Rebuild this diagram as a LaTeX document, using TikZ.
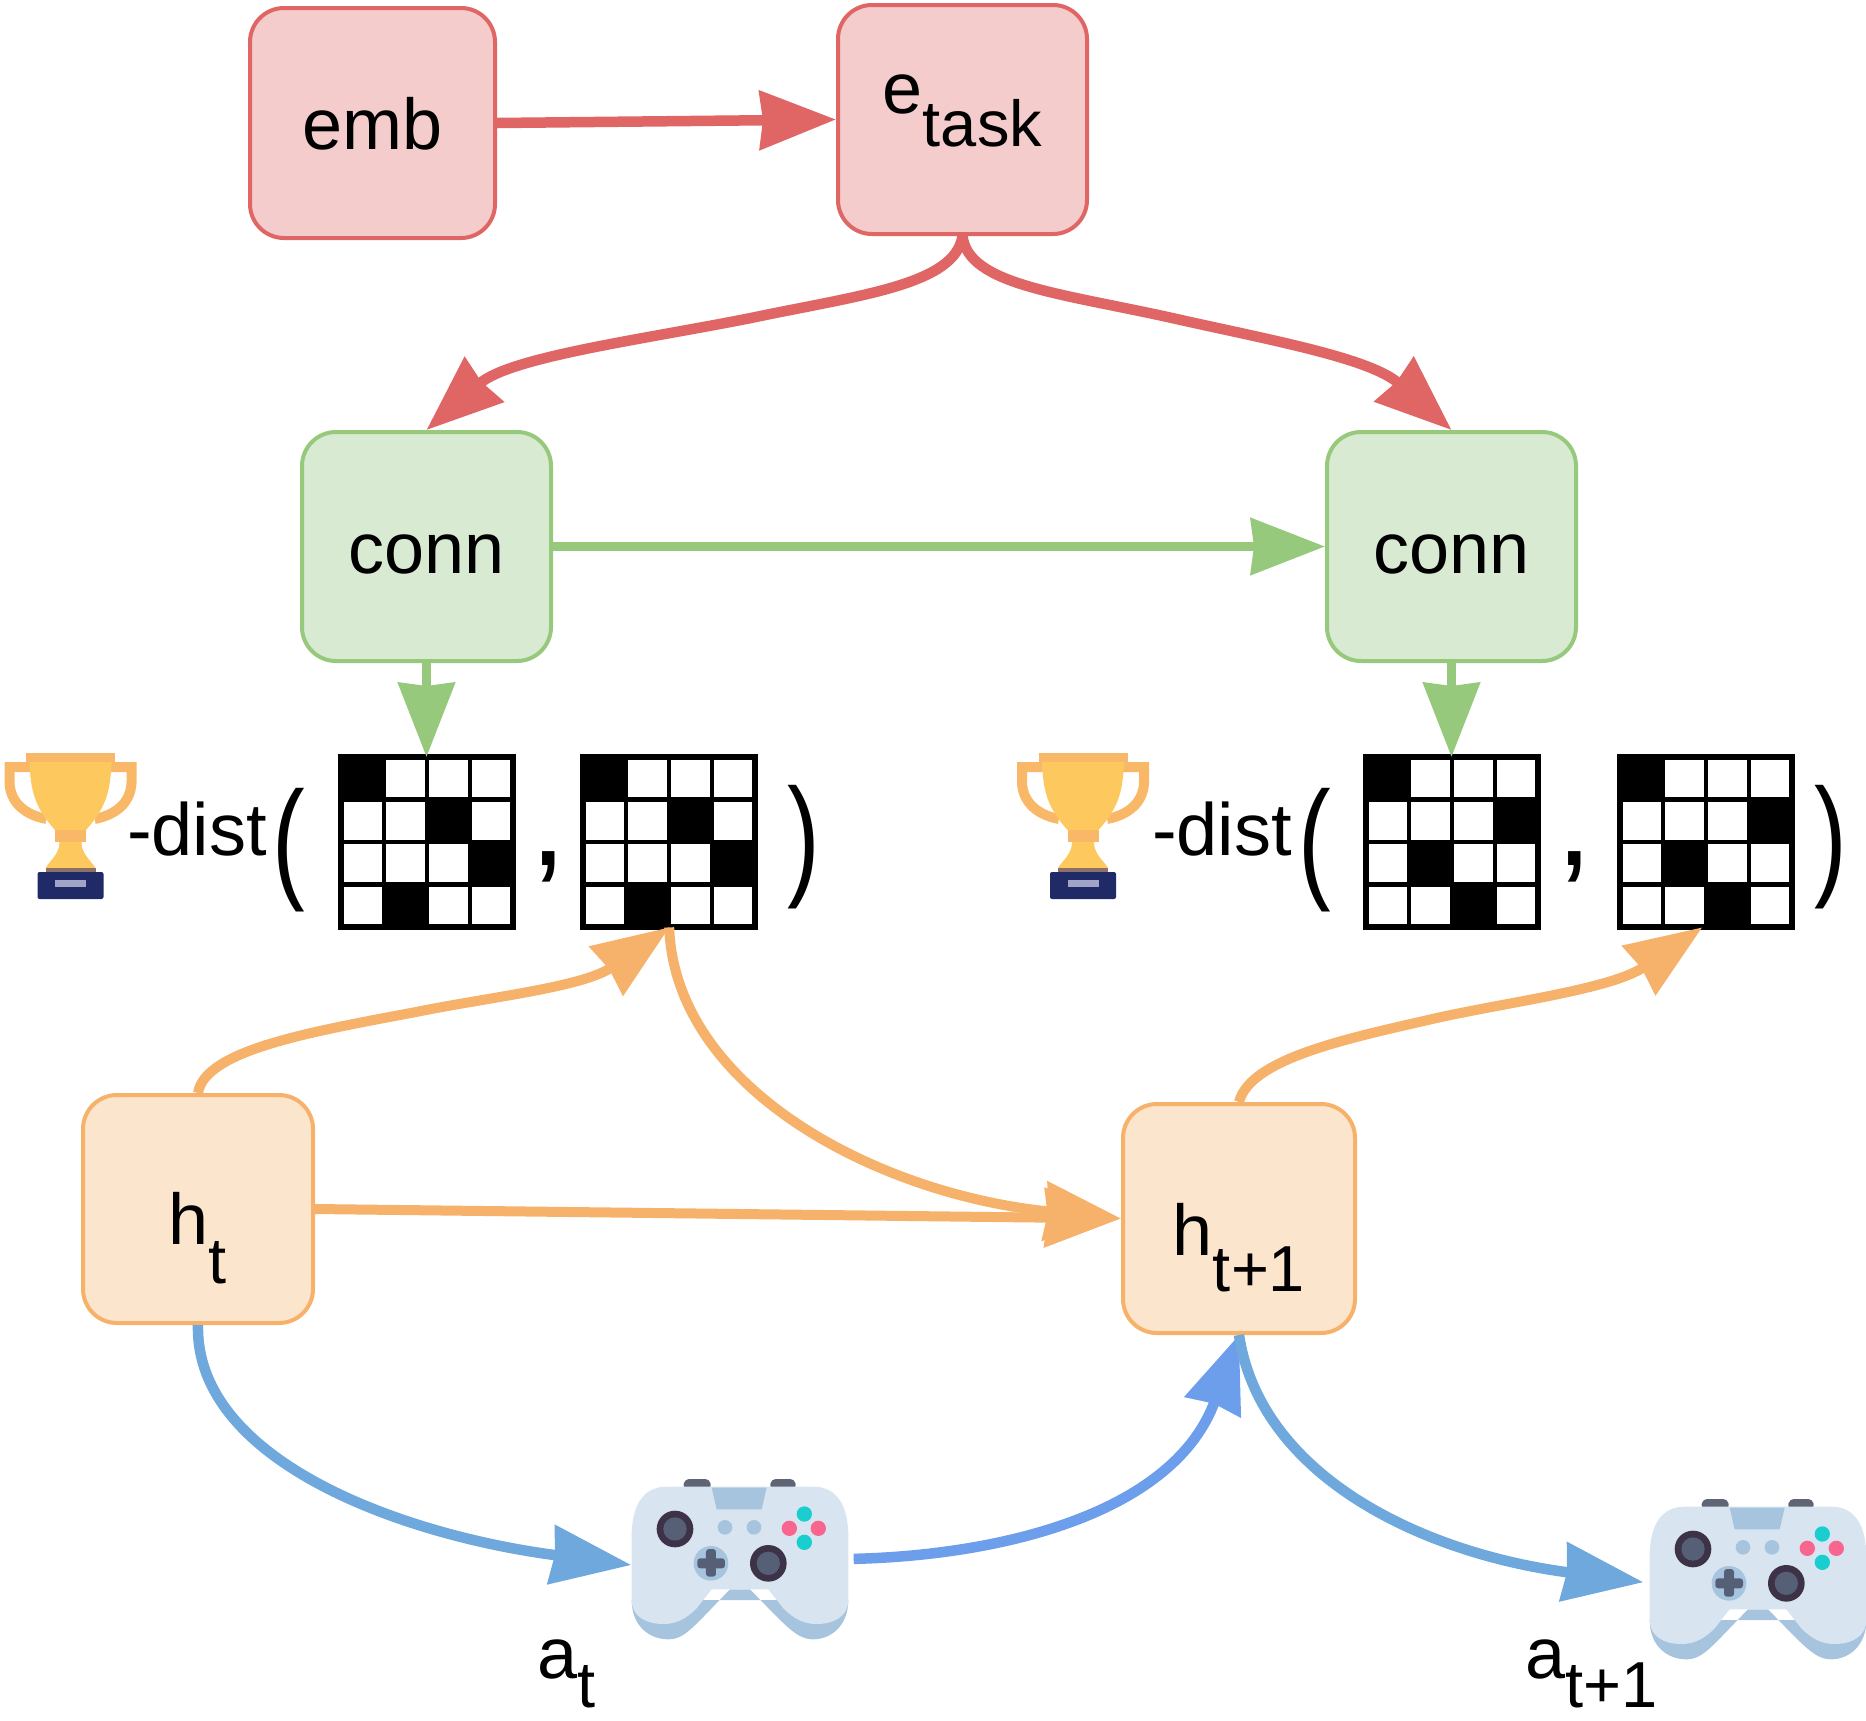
\documentclass[tikz,border=0pt]{standalone}
\usepackage{fontspec}
\usepackage{graphicx}
\setmainfont{Liberation Sans}
\usetikzlibrary{arrows.meta}
\definecolor{redS}{HTML}{E06666}\definecolor{redF}{HTML}{F4CCCC}
\definecolor{greenS}{HTML}{97C97C}\definecolor{greenF}{HTML}{D9EAD3}
\definecolor{orangeS}{HTML}{F6B26B}\definecolor{orangeF}{HTML}{FCE5CD}
\definecolor{blueS}{HTML}{6FA8DC}\definecolor{blueT}{HTML}{6D9EEB}
\definecolor{padL}{HTML}{D8E5F0}\definecolor{padD}{HTML}{A7C4DE}
\definecolor{padG}{HTML}{5F6575}\definecolor{padK}{HTML}{3D3248}\definecolor{padM}{HTML}{555F75}
\definecolor{padT}{HTML}{1ACDCF}\definecolor{padP}{HTML}{F8668F}
\definecolor{cupY}{HTML}{FDC95F}\definecolor{cupO}{HTML}{F9B868}\definecolor{cupN}{HTML}{1F2A66}\definecolor{cupL}{HTML}{A0A5C8}
\newcommand{\fbig}{\fontsize{72}{80}\selectfont}
\newcommand{\fdist}{\fontsize{74}{80}\selectfont}
\newcommand{\subf}{\fontsize{65}{80}\selectfont}
\newcommand{\fhuge}{\fontsize{130}{140}\selectfont}
\newcommand{\boxtxt}[2]{\smash{\raisebox{-#1pt}{#2}}}
\newcommand{\lowr}[2]{\raisebox{-#1pt}{\subf #2}}
\newcommand{\tallp}[1]{\scalebox{1.38}[1.87]{\fontsize{71}{80}\selectfont #1}}
\tikzset{
  x=1pt,y=-1pt,
  bx/.style={rounded corners=34pt,line width=4pt,inner sep=0pt,font=\fbig},
  redbox/.style={bx,draw=redS,fill=redF},
  greenbox/.style={bx,draw=greenS,fill=greenF},
  orangebox/.style={bx,draw=orangeS,fill=orangeF},
  txt/.style={inner sep=0pt,font=\fbig,anchor=base west},
  disttxt/.style={inner sep=0pt,font=\fdist,anchor=base west},
  punct/.style={inner sep=0pt,font=\fhuge,anchor=base west},
  redarr/.style={draw=redS,line width=10.5pt,-{Stealth[length=76pt,width=58pt,inset=3pt,fill=redS]}},
  greenarr/.style={draw=greenS,line width=9pt,-{Stealth[length=74pt,width=56pt,inset=3pt,fill=greenS]}},
  orangearr/.style={draw=orangeS,line width=10pt,-{Stealth[length=76pt,width=58pt,inset=3pt,fill=orangeS]}},
  bluearr/.style={draw=blueS,line width=10.5pt,-{Stealth[length=80pt,width=58pt,inset=3pt,fill=blueS]}},
  bluearrb/.style={draw=blueT,line width=10.5pt,-{Stealth[length=76pt,width=58pt,inset=3pt,fill=blueT]}},
}
\newcommand{\gridfig}[7]{%
  \begin{scope}[shift={(#2,#3)}]
    \node[inner sep=0pt,minimum width=172pt,minimum height=170pt,anchor=north west] (#1) at (0,0) {};
    \fill[black] (#4*43,0) rectangle ++(43,42.5);
    \fill[black] (#5*43,42.5) rectangle ++(43,42.5);
    \fill[black] (#6*43,85) rectangle ++(43,42.5);
    \fill[black] (#7*43,127.5) rectangle ++(43,42.5);
    \draw[line width=5.5pt] (0,0) rectangle (172,170);
    \foreach \i in {1,2,3}{
      \draw[line width=4.5pt] (\i*43,0) -- (\i*43,170);
      \draw[line width=4.5pt] (0,\i*42.5) -- (172,\i*42.5);
    }
  \end{scope}}
\newcommand{\trophyfig}[2]{%
  \begin{scope}[shift={(#1,#2)}]
    \draw[cupO,line width=10pt] (-38,18) -- (-61,18) -- (-61,34) .. controls (-60,54) and (-45,66) .. (-24,70);
    \draw[cupO,line width=10pt] (38,18) -- (61,18) -- (61,34) .. controls (60,54) and (45,66) .. (24,70);
    \fill[cupY] (-41,12) -- (41,12) .. controls (40,42) and (36,58) .. (15.5,81) -- (-15.5,81) .. controls (-36,58) and (-40,42) .. (-41,12) -- cycle;
    \fill[cupO] (-44.5,3.5) rectangle (44.5,13);
    \fill[cupO] (-15.5,81) rectangle (15.5,93);
    \fill[cupY] (-11,93) -- (11,93) .. controls (11,105) and (20,111) .. (25,119) -- (-25,119) .. controls (-20,111) and (-11,105) .. (-11,93) -- cycle;
    \fill[cupN!50!cupO] (-25,119) rectangle (25,124);
    \fill[cupN,rounded corners=2pt] (-33,123) rectangle (33,150);
    \fill[cupL] (-15.5,131) rectangle (15.5,138);
  \end{scope}}
\newcommand{\padfig}[3]{%
  \begin{scope}[shift={(#2,#3)},x=0.3333pt,y=-0.3333pt]
    \node[inner sep=0pt,minimum width=217pt,minimum height=162pt] (#1) at (420,327) {};
    \fill[padG,rounded corners=4pt] (248,115) -- (255,87) -- (328,87) -- (335,115) -- cycle;
    \fill[padG,rounded corners=4pt] (508,115) -- (515,87) -- (583,87) -- (590,115) -- cycle;
    \fill[padD] (95,450) .. controls (95,530) and (150,568) .. (205,568) .. controls (255,568) and (280,530) .. (390,418) -- (450,418) .. controls (560,530) and (590,568) .. (640,568) .. controls (690,568) and (745,530) .. (745,450) -- cycle;
    \fill[padL] (200,110) -- (640,110) .. controls (710,110) and (745,165) .. (745,260) -- (745,450) .. controls (745,500) and (700,522) .. (650,522) .. controls (610,522) and (580,505) .. (550,475) -- (505,418) -- (335,418) -- (290,475) .. controls (260,505) and (230,522) .. (190,522) .. controls (140,522) and (95,500) .. (95,450) -- (95,260) .. controls (95,165) and (130,110) .. (200,110) -- cycle;
    \fill[padD] (335,113) -- (500,113) -- (485,178) -- (350,178) -- cycle;
    \fill[padK] (225,237) circle[radius=55];
    \fill[padM] (225,237) circle[radius=35];
    \fill[padK] (505,340) circle[radius=55];
    \fill[padM] (505,340) circle[radius=35];
    \fill[padD] (333,340) circle[radius=52];
    \fill[padM,rounded corners=3pt] (292,325) rectangle (375,355);
    \fill[padM,rounded corners=3pt] (318,297) rectangle (348,380);
    \fill[padD] (375,232) circle[radius=22];
    \fill[padD] (462,232) circle[radius=22];
    \fill[padT] (613,192) circle[radius=23];
    \fill[padT] (613,277) circle[radius=23];
    \fill[padP] (568,235) circle[radius=23];
    \fill[padP] (655,235) circle[radius=23];
  \end{scope}}
\begin{document}
\begin{tikzpicture}
\useasboundingbox (0,0) rectangle (1866,1721);
% boxes
\node[redbox,minimum width=245pt,minimum height=230pt] (emb) at (372.5,123) {\boxtxt{26}{emb}};
\node[redbox,minimum width=249pt,minimum height=229pt] (etask) at (962.5,119.5) {\boxtxt{-6}{e\lowr{33}{task}}};
\node[greenbox,minimum width=249pt,minimum height=229pt] (connA) at (426.5,546.5) {\boxtxt{27}{conn}};
\node[greenbox,minimum width=249pt,minimum height=229pt] (connB) at (1451.5,546.5) {\boxtxt{27}{conn}};
\node[orangebox,minimum width=230pt,minimum height=228pt] (ht) at (198,1209) {\boxtxt{35}{h\lowr{39}{t}}};
\node[orangebox,minimum width=232pt,minimum height=229pt] (htn) at (1239,1218.5) {\boxtxt{37}{h\lowr{36}{t+1}}};
% grids
\gridfig{gA}{341}{757}{0}{2}{3}{1}
\gridfig{gB}{583}{757}{0}{2}{3}{1}
\gridfig{gC}{1366}{757}{0}{3}{1}{2}
\gridfig{gD}{1620}{757}{0}{3}{1}{2}
% dist expressions
\trophyfig{70.5}{749}
\trophyfig{1083}{749}
\node[disttxt] (distA) at (127,855) {-dist};
\node[disttxt] (distB) at (1152,855) {-dist};
\node[inner sep=0pt,anchor=base west] (lpA) at (272,884) {\tallp{(}};
\node[punct] (cmA) at (530,865) {,};
\node[inner sep=0pt,anchor=base west] (rpA) at (787,881) {\tallp{)}};
\node[inner sep=0pt,anchor=base west] (lpB) at (1298,884) {\tallp{(}};
\node[punct] (cmB) at (1556,865) {,};
\node[inner sep=0pt,anchor=base west] (rpB) at (1814,881) {\tallp{)}};
% controllers
\padfig{padA}{600}{1450}
\padfig{padB}{1618}{1470}
\node[txt] (atl) at (537,1678) {a\lowr{29}{t}};
\node[txt] (atnl) at (1525,1678) {a\lowr{29}{t+1}};
% connectors
\draw[redarr] (emb.east) -- (etask.west);
\draw[redarr] (etask.south) .. controls (955,285) and (860,295) .. (751,318) .. controls (640,340) and (510,357) .. (connA.north);
\draw[redarr] (etask.south) .. controls (968,285) and (1060,293) .. (1172,318) .. controls (1270,340) and (1370,358) .. (connB.north);
\draw[greenarr] (connA.east) -- (connB.west);
\draw[greenarr] (connA.south) -- (gA.north -| connA.south);
\draw[greenarr] (connB.south) -- (gC.north -| connB.south);
\draw[orangearr] (ht.north) .. controls (205,1050) and (310,1032) .. (416,1012) .. controls (490,997) and (583,987) .. (gB.south);
\draw[orangearr] (gB.south) .. controls (675,1090) and (880,1195) .. (htn.west);
\draw[orangearr] (ht.east) -- (htn.west);
\draw[orangearr] (htn.north) .. controls (1250,1060) and (1340,1040) .. (1428,1020) .. controls (1500,1003) and (1610,990) .. ([xshift=-4pt]gD.south);
\draw[bluearr] (ht.south) .. controls (195,1460) and (400,1535) .. ([yshift=-6pt]padA.west);
\draw[bluearrb,shorten <=5pt] (padA.east) .. controls (1010,1555) and (1175,1510) .. (htn.south);
\draw[bluearr,shorten >=6pt] (htn.south) .. controls (1260,1475) and (1420,1553) .. ([yshift=-4pt]padB.west);
\end{tikzpicture}
\end{document}
